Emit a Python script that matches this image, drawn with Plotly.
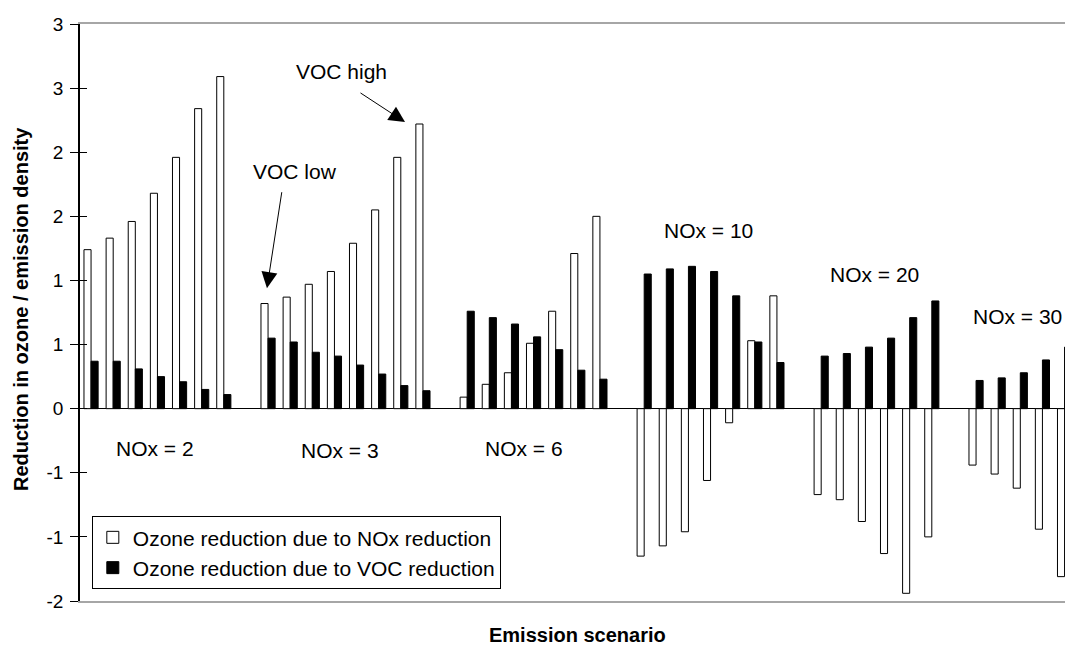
import plotly.graph_objects as go

# ---- data ----
group_labels = ["NOx = 2", "NOx = 3", "NOx = 6", "NOx = 10", "NOx = 20", "NOx = 30"]
nox_reduction = [
    [1.24, 1.33, 1.46, 1.68, 1.96, 2.34, 2.59],
    [0.82, 0.87, 0.97, 1.07, 1.29, 1.55, 1.96, 2.22],
    [0.09, 0.19, 0.28, 0.51, 0.76, 1.21, 1.50],
    [-1.15, -1.07, -0.96, -0.56, -0.11, 0.53, 0.88],
    [-0.67, -0.71, -0.88, -1.13, -1.44, -1.00],
    [-0.44, -0.51, -0.62, -0.94, -1.31],
]
voc_reduction = [
    [0.37, 0.37, 0.31, 0.25, 0.21, 0.15, 0.11],
    [0.55, 0.52, 0.44, 0.41, 0.34, 0.27, 0.18, 0.14],
    [0.76, 0.71, 0.66, 0.56, 0.46, 0.30, 0.23],
    [1.05, 1.09, 1.11, 1.07, 0.88, 0.52, 0.36],
    [0.41, 0.43, 0.48, 0.55, 0.71, 0.84],
    [0.22, 0.24, 0.28, 0.38, 0.48],
]
y_tickvals = [-1.5, -1.0, -0.5, 0.0, 0.5, 1.0, 1.5, 2.0, 2.5, 3.0]
y_ticktext = ["-2", "-1", "-1", "0", "1", "1", "2", "2", "3", "3"]

# flatten into one category axis, one empty category between groups
white_vals, black_vals, group_start = [], [], []
for gi, (w, b) in enumerate(zip(nox_reduction, voc_reduction)):
    if gi > 0:
        white_vals.append(None)
        black_vals.append(None)
    group_start.append(len(white_vals))
    white_vals.extend(w)
    black_vals.extend(b)
xs = list(range(len(white_vals)))

FONT = "Arial, Liberation Sans, Helvetica, sans-serif"
ANN = dict(size=21, color="black", family=FONT)

fig = go.Figure()
fig.add_trace(go.Bar(x=xs, y=white_vals, name="Ozone reduction due to NOx reduction",
                     marker=dict(color="white", line=dict(color="black", width=1)),
                     legendgroup="a"))
fig.add_trace(go.Bar(x=xs, y=black_vals, name="Ozone reduction due to VOC reduction",
                     marker=dict(color="black", line=dict(color="black", width=1)),
                     legendgroup="b"))
# helper trace for the inside half of the crossing ticks
fig.add_trace(go.Scatter(x=[None], y=[None], yaxis="y2", showlegend=False, hoverinfo="skip"))

annotations = []
# group labels (positions in data coordinates)
label_pos = [(2.89, -0.31), (11.25, -0.33), (19.57, -0.31), (27.89, 1.39), (35.39, 1.05)]
for lab, (lx, ly) in zip(group_labels[:5], label_pos):
    annotations.append(dict(x=lx, y=ly, xref="x", yref="y", text=lab, showarrow=False, font=ANN))
annotations.append(dict(x=0.9985, y=0.717, xref="paper", yref="y", text=group_labels[5],
                        xanchor="right", showarrow=False, font=ANN))
# VOC high / VOC low
annotations.append(dict(x=11.34, y=2.63, xref="x", yref="y", text="VOC high", showarrow=False, font=ANN))
annotations.append(dict(x=9.22, y=1.85, xref="x", yref="y", text="VOC low", showarrow=False, font=ANN))
annotations.append(dict(x=14.19, y=2.235, xref="x", yref="y", ax=12.11, ay=2.47,
                        axref="x", ayref="y", text="", showarrow=True,
                        arrowhead=2, arrowsize=3.2, arrowwidth=1, arrowcolor="black"))
annotations.append(dict(x=7.95, y=0.94, xref="x", yref="y", ax=8.63, ay=1.70,
                        axref="x", ayref="y", text="", showarrow=True,
                        arrowhead=2, arrowsize=3.2, arrowwidth=1, arrowcolor="black"))
# axis titles
annotations.append(dict(x=0.5046, y=-0.0590, xref="paper", yref="paper", yanchor="middle",
                        text="<b>Emission scenario</b>", showarrow=False,
                        font=dict(size=20, color="black", family=FONT)))
annotations.append(dict(x=-0.0599, y=0.506, xref="paper", yref="paper", xanchor="center",
                        text="<b>Reduction in ozone / emission density</b>", showarrow=False,
                        textangle=-90, font=dict(size=20, color="black", family=FONT)))

fig.update_layout(
    width=1065, height=646,
    margin=dict(l=80, r=0, t=24, b=45, autoexpand=False),
    paper_bgcolor="white", plot_bgcolor="white",
    barmode="group", bargap=0.36, bargroupgap=0,
    font=dict(family=FONT, color="black", size=18),
    showlegend=True,
    legend=dict(x=0.012, y=0.147, xanchor="left", yanchor="top",
                bgcolor="white", bordercolor="black", borderwidth=1,
                font=dict(size=21, family=FONT, color="black"),
                tracegroupgap=5, traceorder="normal"),
    annotations=annotations,
    xaxis=dict(range=[-0.5, 44.02], showticklabels=False, ticks="", showgrid=False,
               zeroline=False, showline=True, mirror=True, linecolor="#a6a6a6", linewidth=2,
               automargin=False),
    yaxis=dict(range=[-1.5, 3.0], tickvals=y_tickvals, ticktext=y_ticktext,
               ticks="outside", ticklen=8, tickcolor="black", tickwidth=1,
               showgrid=False, zeroline=True, zerolinecolor="black", zerolinewidth=1,
               showline=True, linecolor="black", linewidth=1.5,
               tickfont=dict(size=19, family=FONT), ticklabelstandoff=3,
               automargin=False),
    yaxis2=dict(range=[-1.5, 3.0], overlaying="y", side="left", tickvals=y_tickvals,
                ticks="inside", ticklen=7, tickcolor="black", tickwidth=1,
                showticklabels=False, showgrid=False, zeroline=False, showline=False,
                automargin=False),
)

fig.write_html("out.html",
               config={"displayModeBar": False},
               post_script="document.body.style.margin='0';document.body.style.overflow='hidden';")
